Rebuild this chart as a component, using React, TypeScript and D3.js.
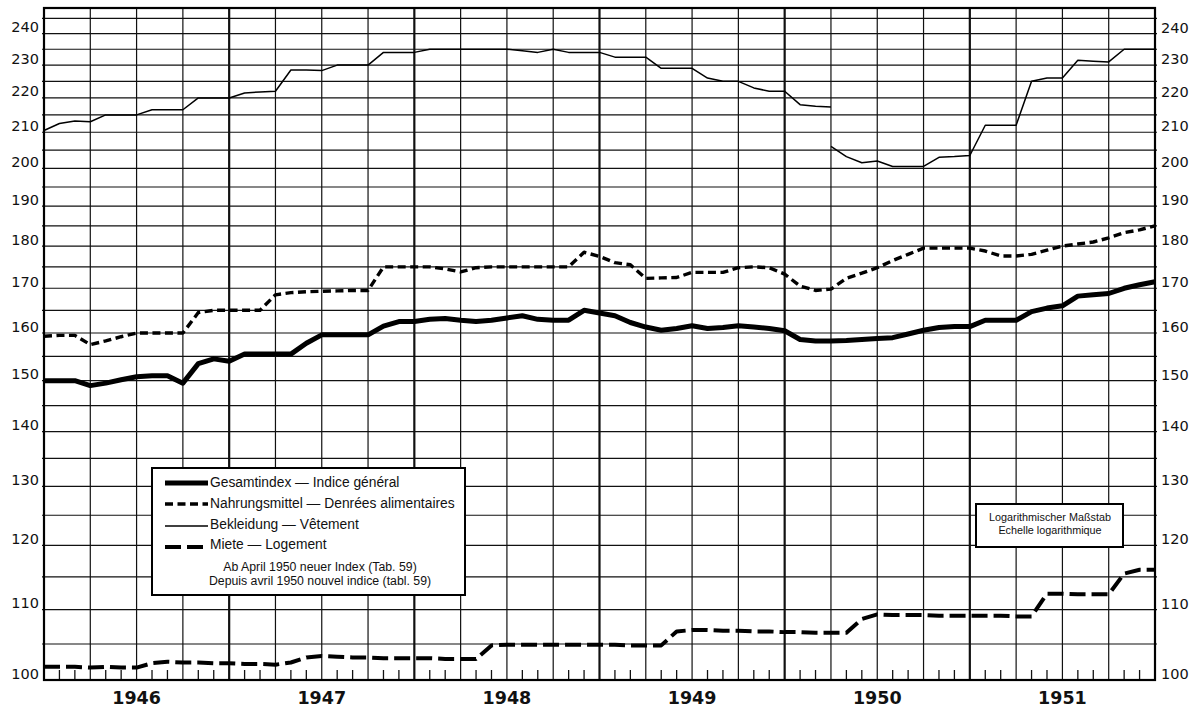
import React from 'react';
import * as d3 from 'd3';

// Monthly values, index 0 = Jan 1946 ... index 72 = end of Dec 1951
const yearLabels = ['1946', '1947', '1948', '1949', '1950', '1951'];
const yTickLabels = [100, 110, 120, 130, 140, 150, 160, 170, 180, 190, 200, 210, 220, 230, 240];

const gesamtindex = [
  150, 150, 150, 149, 149.5, 150.2, 150.8, 151, 151, 149.5,
  153.5, 154.5, 154, 155.5, 155.5, 155.5, 155.5, 157.8, 159.6, 159.6,
  159.6, 159.6, 161.5, 162.5, 162.5, 163, 163.2, 162.8, 162.5, 162.8,
  163.3, 163.8, 163, 162.8, 162.8, 165, 164.4, 163.8, 162.3, 161.3,
  160.6, 161, 161.6, 161, 161.2, 161.6, 161.3, 161, 160.5, 158.6,
  158.3, 158.3, 158.4, 158.6, 158.8, 159, 159.8, 160.6, 161.2, 161.4,
  161.4, 162.8, 162.8, 162.8, 164.7, 165.5, 166, 168.2, 168.5, 168.8,
  170, 170.8, 171.5,
];

const nahrungsmittel = [
  159.3, 159.5, 159.5, 157.5, 158.3, 159.2, 160, 160, 160, 160,
  164.5, 165, 165, 165, 165, 168.5, 169, 169.2, 169.3, 169.4,
  169.5, 169.5, 175, 175, 175, 175, 174.5, 173.8, 174.8, 175,
  175, 175, 175, 175, 175, 178.5, 177.5, 176, 175.5, 172.3,
  172.4, 172.5, 173.7, 173.7, 173.7, 174.8, 175, 174.8, 173.3, 170.5,
  169.5, 169.8, 172.3, 173.5, 174.8, 176.5, 178, 179.5, 179.5, 179.5,
  179.5, 178.8, 177.6, 177.6, 178, 179, 180, 180.5, 181, 182,
  183.3, 184, 185,
];

// Old clothing index: index 0..51 (Jan 1946 - Apr 1950)
const bekleidungAlt = [
  210.5, 212.5, 213.2, 213, 215, 215, 215, 216.5, 216.5, 216.5,
  220, 220, 220, 221.5, 221.8, 222, 228.5, 228.5, 228.3, 230,
  230, 230, 234, 234, 234, 235, 235, 235, 235, 235,
  235, 234.5, 234, 235, 234, 234, 234, 232.5, 232.5, 232.5,
  229, 229, 229, 226, 225, 225, 223, 222, 222, 218,
  217.5, 217.3,
];
const bekleidungAltStart = 0;

// New clothing index: index 51..72 (from Apr 1950)
const bekleidungNeu = [
  206, 203.2, 201.5, 202, 200.5, 200.5, 200.5, 203, 203.2, 203.5,
  212, 212, 212, 225, 226, 226, 231.5, 231.2, 231, 235,
  235, 235,
];
const bekleidungNeuStart = 51;

const miete = [
  101.8, 101.8, 101.8, 101.7, 101.8, 101.7, 101.7, 102.3, 102.5, 102.4,
  102.4, 102.3, 102.3, 102.2, 102.2, 102.1, 102.4, 103.1, 103.3, 103.2,
  103.1, 103.1, 103, 103, 103, 103, 102.9, 102.9, 102.9, 104.8,
  104.9, 104.9, 104.9, 104.9, 104.9, 104.9, 104.9, 104.9, 104.8, 104.8,
  104.8, 106.8, 107, 107, 106.9, 106.9, 106.8, 106.8, 106.7, 106.7,
  106.6, 106.6, 106.6, 108.6, 109.3, 109.2, 109.2, 109.2, 109.1, 109.1,
  109.1, 109.1, 109.1, 109, 109, 112.4, 112.4, 112.3, 112.3, 112.3,
  115.5, 116.1, 116.1,
];

const legendLabels = [
  'Gesamtindex — Indice général',
  'Nahrungsmittel — Denrées alimentaires',
  'Bekleidung — Vêtement',
  'Miete — Logement',
];
const noteLines = ['Ab April 1950 neuer Index (Tab. 59)', 'Depuis avril 1950 nouvel indice (tabl. 59)'];
const scaleNote = ['Logarithmischer Maßstab', 'Echelle logarithmique'];

const W = 1201;
const H = 710;
const L = 44;
const R = 1155;
const T = 8;
const B = 680;

const numFont = 'DejaVu Sans, Verdana, sans-serif';
const txtFont = 'Liberation Sans, Arial, Helvetica, sans-serif';

export default function App() {
  const x = d3.scaleLinear().domain([0, 72]).range([L, R]);
  const y = d3.scaleLog().domain([100, 248.5]).range([B, T]);

  const lineFrom = (start: number) =>
    d3
      .line<number>()
      .x((_, i) => x(i + start))
      .y((d) => y(d));

  const gridValues = d3.range(105, 246, 5);
  const quarterLines = d3.range(3, 72, 3);
  const monthTicks = d3.range(1, 72).filter((m) => m % 3 !== 0);

  const styles = {
    gesamt: { stroke: '#000', strokeWidth: 5, dash: undefined as string | undefined },
    nahrung: { stroke: '#000', strokeWidth: 3.4, dash: '8 4.5' },
    bekleidung: { stroke: '#000', strokeWidth: 1.5, dash: undefined as string | undefined },
    miete: { stroke: '#000', strokeWidth: 4, dash: '16 6' },
  };
  const legendStyles = [styles.gesamt, styles.nahrung, styles.bekleidung, styles.miete];
  const legendRowY = [483, 504, 526, 547];
  const legendTextY = [487, 508, 529, 549];

  return (
    <svg
      width={W}
      height={H}
      style={{ position: 'fixed', left: 0, top: 0, background: '#fff' }}
      xmlns="http://www.w3.org/2000/svg"
    >
      <rect x={0} y={0} width={W} height={H} fill="#fff" />
      {/* horizontal grid */}
      {gridValues.map((v) => (
        <line key={'h' + v} x1={L - 2} x2={R + 2} y1={y(v)} y2={y(v)} stroke="#111" strokeWidth={1.2} />
      ))}
      {/* vertical quarter lines */}
      {quarterLines.map((m) => (
        <line
          key={'v' + m}
          x1={x(m)}
          x2={x(m)}
          y1={T}
          y2={B}
          stroke="#111"
          strokeWidth={m % 12 === 0 ? 2.2 : 1.2}
        />
      ))}
      {/* month ticks */}
      {monthTicks.map((m) => (
        <line key={'t' + m} x1={x(m)} x2={x(m)} y1={B - 10} y2={B} stroke="#111" strokeWidth={1.3} />
      ))}
      {/* frame */}
      <rect x={L} y={T} width={R - L} height={B - T} fill="none" stroke="#000" strokeWidth={2.2} />

      {/* y labels */}
      {yTickLabels.map((v) => (
        <g key={'yl' + v}>
          <text x={39} y={y(v) - 1.5} textAnchor="end" fontFamily={numFont} fontSize={14.5} fill="#111">
            {v}
          </text>
          <text x={1161} y={y(v) - 1} textAnchor="start" fontFamily={numFont} fontSize={14.5} fill="#111">
            {v}
          </text>
        </g>
      ))}
      {/* year labels */}
      {yearLabels.map((yr, i) => (
        <text
          key={yr}
          x={x(i * 12 + 6)}
          y={703.5}
          textAnchor="middle"
          fontFamily={numFont}
          fontWeight={700}
          fontSize={17.5}
          fill="#111"
        >
          {yr}
        </text>
      ))}

      {/* series */}
      <path
        d={lineFrom(0)(miete) || ''}
        fill="none"
        stroke={styles.miete.stroke}
        strokeWidth={styles.miete.strokeWidth}
        strokeDasharray={styles.miete.dash}
        strokeLinejoin="round"
      />
      <path
        d={lineFrom(bekleidungAltStart)(bekleidungAlt) || ''}
        fill="none"
        stroke={styles.bekleidung.stroke}
        strokeWidth={styles.bekleidung.strokeWidth}
        strokeLinejoin="round"
      />
      <path
        d={lineFrom(bekleidungNeuStart)(bekleidungNeu) || ''}
        fill="none"
        stroke={styles.bekleidung.stroke}
        strokeWidth={styles.bekleidung.strokeWidth}
        strokeLinejoin="round"
      />
      <path
        d={lineFrom(0)(nahrungsmittel) || ''}
        fill="none"
        stroke={styles.nahrung.stroke}
        strokeWidth={styles.nahrung.strokeWidth}
        strokeDasharray={styles.nahrung.dash}
        strokeLinejoin="round"
      />
      <path
        d={lineFrom(0)(gesamtindex) || ''}
        fill="none"
        stroke={styles.gesamt.stroke}
        strokeWidth={styles.gesamt.strokeWidth}
        strokeLinejoin="round"
      />

      {/* legend */}
      <rect x={152} y={468} width={313} height={127} fill="#fff" stroke="#000" strokeWidth={2} />
      {legendLabels.map((lab, i) => (
        <g key={lab}>
          <line
            x1={165}
            x2={208}
            y1={legendRowY[i]}
            y2={legendRowY[i]}
            stroke="#000"
            strokeWidth={legendStyles[i].strokeWidth}
            strokeDasharray={legendStyles[i].dash}
          />
          <text x={210} y={legendTextY[i]} fontFamily={txtFont} fontSize={13.8} fill="#111">
            {lab}
          </text>
        </g>
      ))}
      {noteLines.map((t, i) => (
        <text
          key={t}
          x={320}
          y={571 + i * 13.5}
          textAnchor="middle"
          fontFamily={txtFont}
          fontSize={12.3}
          fill="#111"
        >
          {t}
        </text>
      ))}

      {/* log scale note */}
      <rect x={976} y={504} width={147} height={43} fill="#fff" stroke="#000" strokeWidth={2} />
      {scaleNote.map((t, i) => (
        <text
          key={t}
          x={1050}
          y={521 + i * 12.5}
          textAnchor="middle"
          fontFamily={txtFont}
          fontSize={10.8}
          fill="#111"
        >
          {t}
        </text>
      ))}
    </svg>
  );
}
